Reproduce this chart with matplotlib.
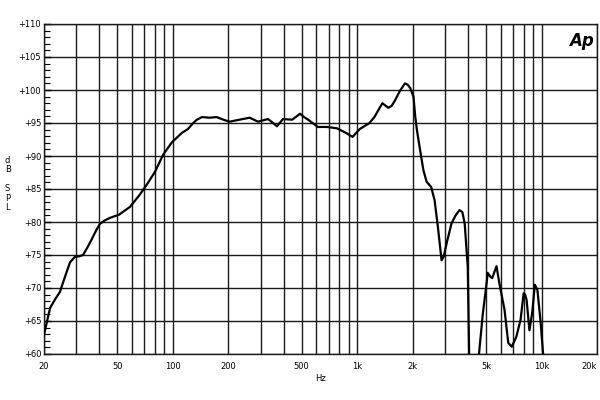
import numpy as np
import matplotlib
matplotlib.use("Agg")
import matplotlib.pyplot as plt
from matplotlib.ticker import FixedLocator, NullFormatter

# frequency response (Hz, dB SPL)
freq = [20, 21.6, 23.0, 24.4, 26.0, 27.7, 29.4, 31.0, 32.6, 34.5, 36.2, 38.5, 40.2, 42.5,
        45.3, 51, 58.6, 66, 72, 80, 88.6, 99, 112, 121, 128, 135, 144, 158, 173, 188, 203,
        230, 261, 290, 328, 350, 367, 396, 444, 490, 515, 542, 612, 686, 776, 857, 944,
        1035, 1166, 1240, 1300, 1370, 1475, 1540, 1610, 1700, 1816, 1880, 1940, 2020,
        2065, 2110, 2195, 2285, 2380, 2520, 2630, 2740, 2870, 2950, 3070, 3250, 3420,
        3590, 3720, 3830, 3980, 4050, 4250, 4450, 4580, 4800, 5060, 5100, 5250, 5400,
        5700, 5900, 6300, 6600, 6900, 7300, 7700, 8000, 8150, 8300, 8600, 8900, 9200,
        9500, 9900, 10200, 10500]
spl = [62.9, 67.0, 68.3, 69.4, 71.7, 73.9, 74.7, 74.8, 75.0, 76.2, 77.3, 78.8, 79.7, 80.2,
       80.6, 81.1, 82.3, 84.1, 85.6, 87.6, 90.2, 92.1, 93.5, 94.1, 94.9, 95.5, 95.9, 95.8,
       95.9, 95.5, 95.2, 95.5, 95.8, 95.2, 95.6, 95.0, 94.5, 95.6, 95.5, 96.4, 95.9, 95.5,
       94.4, 94.4, 94.2, 93.6, 92.9, 94.1, 95.0, 95.9, 96.9, 98.0, 97.3, 97.6, 98.5, 99.8,
       101.0, 100.8, 100.3, 99.0, 96.0, 93.9, 90.9, 87.9, 86.1, 85.3, 83.3, 79.3, 74.2,
       74.8, 77.0, 79.8, 81.0, 81.8, 81.5, 79.8, 73.2, 60.0, 52.0, 52.0, 60.0, 66.0, 71.2,
       72.3, 71.8, 71.5, 73.3, 70.8, 66.7, 61.7, 61.1, 62.6, 65.2, 69.2, 69.0, 68.2, 63.6,
       66.2, 70.5, 69.7, 64.7, 60.0, 52.0]

xtick_pos = [20, 50, 100, 200, 500, 1000, 2000, 5000, 10000, 20000]
xtick_lab = ["20", "50", "100", "200", "500", "1k", "2k", "5k", "10k", "20k"]
ytick_pos = list(range(60, 111, 5))
ytick_lab = ["+%d" % v for v in ytick_pos]

grid_x = [20, 30, 40, 50, 60, 70, 80, 90, 100, 200, 300, 400, 500, 600, 700, 800, 900,
          1000, 2000, 3000, 4000, 5000, 6000, 7000, 8000, 9000, 10000, 20000]

fig = plt.figure(figsize=(6, 4), dpi=100)
ax = fig.add_axes([0.0733, 0.115, 0.9217, 0.825])

ax.set_xscale("log")
ax.set_xlim(20, 20000)
ax.set_ylim(60, 110)

for g in grid_x:
    ax.axvline(g, color="#1a1a1a", lw=1.0, zorder=1)
for g in ytick_pos:
    ax.axhline(g, color="#1a1a1a", lw=1.0, zorder=1)

ax.plot(freq, spl, color="black", lw=1.6, zorder=3, clip_on=True,
        solid_joinstyle="round")

ax.xaxis.set_major_locator(FixedLocator(xtick_pos))
ax.xaxis.set_minor_locator(FixedLocator([]))
ax.xaxis.set_minor_formatter(NullFormatter())
ax.set_xticklabels(xtick_lab)
ax.get_xticklabels()[-1].set_horizontalalignment("right")
ax.tick_params(axis="x", which="both", length=0, pad=6, labelsize=6)

ax.set_yticks(ytick_pos)
ax.set_yticklabels(ytick_lab)
ax.yaxis.set_minor_locator(FixedLocator(np.arange(60, 111, 1)))
ax.tick_params(axis="y", which="major", direction="in", length=5, width=1.0, labelsize=6, pad=2)
ax.tick_params(axis="y", which="minor", direction="in", length=4, width=0.8)

for s in ax.spines.values():
    s.set_linewidth(1.0)
    s.set_color("#1a1a1a")

ax.set_xlabel("Hz", fontsize=6, labelpad=2)
fig.text(0.008, 0.54, "d\nB\n\nS\nP\nL", fontsize=6, va="center", ha="left", linespacing=1.05)
ax.text(0.995, 0.975, "Ap", transform=ax.transAxes, ha="right", va="top",
        fontsize=12, fontweight="bold", fontstyle="italic")

fig.savefig("out.png", dpi=100)
